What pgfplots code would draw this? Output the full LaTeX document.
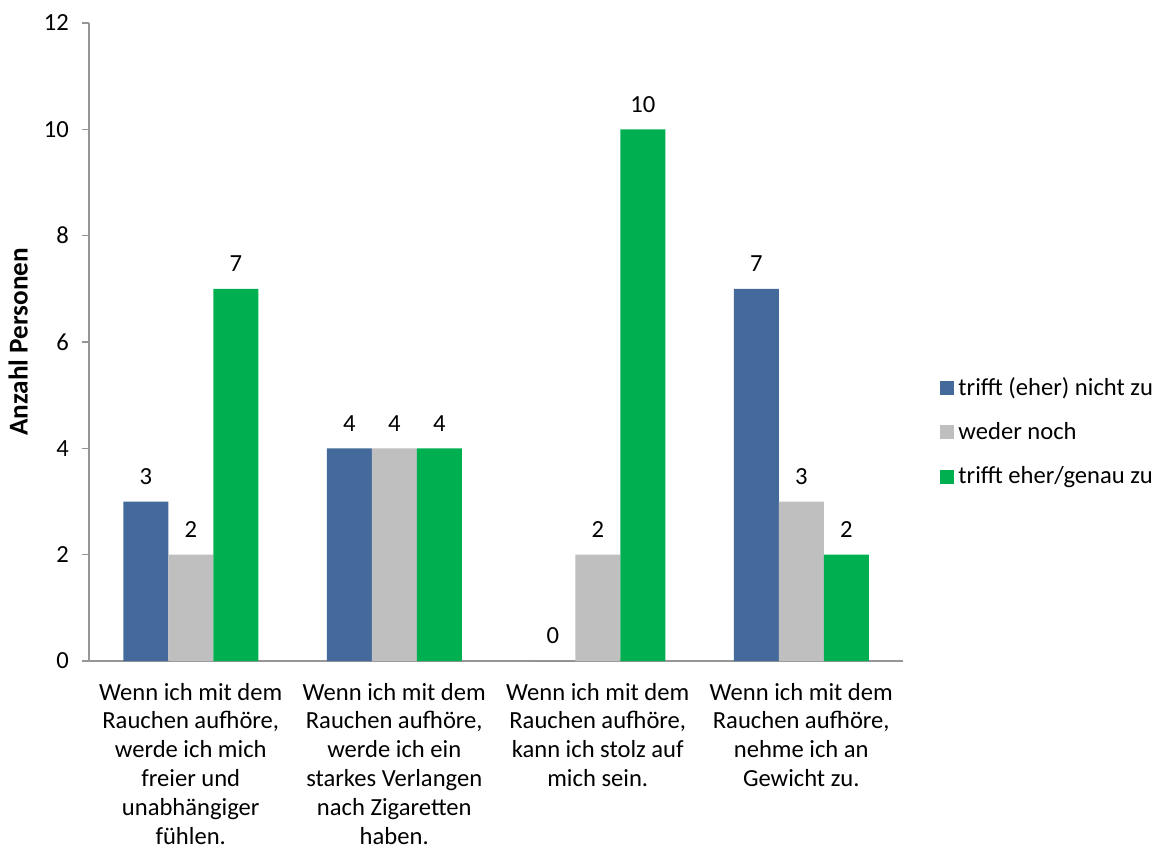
\documentclass[border=0pt]{standalone}
\usepackage{fontspec}
\setmainfont{Carlito}
\usepackage{pgfplots}
\pgfplotsset{compat=1.18}
\definecolor{cblue}{HTML}{436A9A}
\definecolor{cgray}{HTML}{BFBFBF}
\definecolor{cgreen}{HTML}{00B050}
\definecolor{caxis}{HTML}{969696}
\begin{document}
\begin{tikzpicture}
\path (0,0) rectangle (580pt,424pt);
\begin{axis}[
  at={(44.5pt,93.5pt)}, anchor=south west,
  scale only axis, width=407pt, height=319pt,
  font=\fontsize{12.3}{14.4}\selectfont,
  /pgf/number format/assume math mode=true,
  ybar=0pt, bar width=22.5pt,
  xmin=-0.5, xmax=3.5, ymin=0, ymax=12,
  ytick={0,2,...,12},
  xtick={0,1,2,3},
  xticklabels={
    {Wenn ich mit dem\\Rauchen aufhöre,\\werde ich mich\\freier und\\unabhängiger\\fühlen.},
    {Wenn ich mit dem\\Rauchen aufhöre,\\werde ich ein\\starkes Verlangen\\nach Zigaretten\\haben.},
    {Wenn ich mit dem\\Rauchen aufhöre,\\kann ich stolz auf\\mich sein.},
    {Wenn ich mit dem\\Rauchen aufhöre,\\nehme ich an\\Gewicht zu.}},
  xticklabel style={align=center, yshift=-4pt},
  x tick style={draw=none},
  y tick style={draw=caxis, line width=0.8pt},
  ytick pos=left, tick align=outside, major tick length=3.5pt,
  yticklabel style={xshift=-3pt},
  axis x line*=bottom, axis y line*=left,
  axis line style={draw=caxis, line width=0.8pt, -},
  ylabel={\fontsize{13.6}{16}\selectfont\textbf{Anzahl Personen}},
  every axis y label/.style={at={(axis description cs:-0.087,0.5)}, rotate=90, anchor=center},
  nodes near coords,
  every node near coord/.append style={font=\fontsize{12.3}{14.4}\selectfont, yshift=5pt, text=black},
  legend style={at={(axis description cs:1.0455,0.359)}, anchor=west, draw=none, fill=none,
    font=\fontsize{12.3}{14.4}\selectfont, row sep=8pt, inner sep=0pt},
  legend cell align=left,
  legend image code/.code={\fill[#1] (0pt,-3.5pt) rectangle (7pt,3.5pt);},
  clip=false,
]
\addplot[fill=cblue, draw=none] coordinates {(0,3) (1,4) (2,0) (3,7)};
\addplot[fill=cgray, draw=none] coordinates {(0,2) (1,4) (2,2) (3,3)};
\addplot[fill=cgreen, draw=none] coordinates {(0,7) (1,4) (2,10) (3,2)};
\legend{trifft (eher) nicht zu, weder noch, trifft eher/genau zu}
\end{axis}
\pgfresetboundingbox
\path (0,0) rectangle (580pt,424pt);
\end{tikzpicture}
\end{document}
